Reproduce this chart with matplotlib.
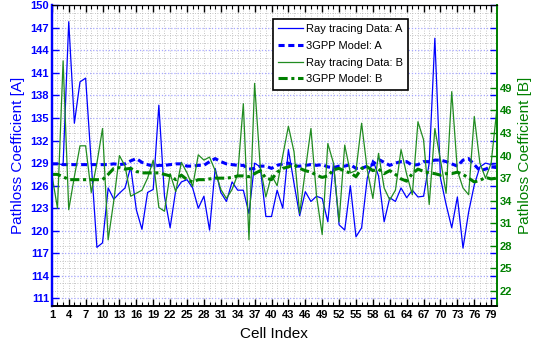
import matplotlib
matplotlib.use("Agg")
import matplotlib.pyplot as plt
import numpy as np
from matplotlib.ticker import MultipleLocator

plt.rcParams['font.family'] = ['Liberation Sans', 'DejaVu Sans']

cells = np.arange(1, 81)

# ray tracing data A (left axis)
ray_a = [128.9, 128.9, 128.8, 147.8, 134.3, 139.8, 140.3, 129.0, 117.8, 118.4,
         125.7, 124.2, 125.0, 125.7, 128.5, 122.8, 120.2, 125.1, 125.5, 136.7,
         124.6, 120.4, 125.4, 126.5, 126.8, 125.7, 123.0, 124.6, 120.1, 128.3,
         125.1, 123.9, 126.5, 125.4, 125.4, 122.3, 129.0, 128.5, 121.9, 121.9,
         125.4, 123.0, 130.8, 126.3, 122.0, 125.2, 123.9, 124.6, 124.3, 121.2,
         129.0, 120.8, 120.1, 126.0, 119.2, 120.4, 127.0, 129.4, 127.3, 121.2,
         124.4, 123.9, 125.7, 124.4, 125.4, 124.5, 124.6, 129.0, 145.6, 127.0,
         123.5, 120.4, 124.5, 117.7, 122.5, 126.1, 128.5, 129.0, 128.8, 128.7]

# 3GPP model A (left axis)
model_a = [128.9, 128.9, 128.8, 128.8, 128.8, 128.8, 128.8, 128.8, 128.8, 128.8,
           128.8, 128.9, 128.8, 128.9, 129.3, 129.6, 129.1, 128.8, 128.6, 128.7,
           128.7, 128.8, 128.9, 128.9, 128.6, 128.6, 128.7, 128.7, 129.2, 129.6,
           129.2, 128.9, 128.8, 128.7, 128.7, 128.2, 128.3, 128.6, 128.6, 128.3,
           128.7, 128.9, 129.0, 128.6, 128.6, 128.7, 128.8, 128.7, 128.8, 128.5,
           128.4, 128.6, 128.6, 128.8, 128.3, 128.3, 128.6, 128.8, 129.5, 129.1,
           128.7, 129.0, 129.2, 129.2, 128.7, 128.8, 129.2, 129.2, 129.4, 129.4,
           129.2, 128.9, 128.6, 129.4, 129.6, 128.8, 128.0, 128.2, 128.5, 128.4]

# ray tracing data B (right axis)
ray_b = [37.5, 33.0, 52.6, 32.8, 37.2, 41.3, 41.3, 35.1, 39.0, 43.6,
         28.8, 34.0, 40.0, 38.6, 34.6, 35.0, 35.4, 37.0, 39.4, 33.1,
         32.6, 37.6, 35.2, 39.1, 37.7, 35.9, 40.1, 39.4, 39.8, 38.0,
         35.5, 34.3, 35.5, 37.5, 46.9, 28.8, 49.6, 38.5, 34.5, 37.4,
         36.0, 40.0, 43.9, 40.5, 32.3, 38.0, 43.6, 34.6, 29.5, 41.6,
         39.0, 31.2, 41.4, 37.7, 38.0, 44.3, 38.1, 34.3, 40.3, 35.7,
         34.1, 35.4, 40.8, 37.5, 34.8, 44.5, 42.1, 33.5, 43.6, 39.4,
         35.0, 48.5, 38.0, 35.7, 34.8, 45.2, 39.0, 37.0, 39.0, 46.1]

# 3GPP model B (right axis)
model_b = [37.5, 37.5, 37.2, 36.8, 36.8, 36.8, 36.8, 36.8, 36.8, 36.8,
           37.5, 38.3, 38.4, 38.2, 38.3, 37.9, 37.7, 37.7, 37.7, 37.7,
           37.5, 37.3, 36.8, 37.4, 36.8, 36.5, 36.8, 36.8, 36.9, 37.0,
           37.0, 37.0, 37.1, 37.3, 37.3, 37.2, 37.6, 38.0, 37.0, 36.8,
           37.8, 38.3, 38.5, 38.8, 38.3, 38.0, 37.8, 37.4, 37.1, 37.3,
           38.1, 38.3, 37.9, 37.7, 37.2, 38.3, 38.5, 38.0, 38.2, 37.6,
           38.0, 37.5, 36.9, 36.6, 37.6, 38.2, 37.9, 37.7, 37.6, 37.4,
           37.6, 37.6, 37.8, 37.5, 37.0, 36.5, 36.7, 37.1, 36.9, 37.0]

blue = (0, 0, 1)
green = (0, 0.5, 0)
green_light = (0.13, 0.55, 0.13)

fig = plt.figure(figsize=(5.4, 3.45), dpi=100)
ax1 = fig.add_axes([0.096, 0.113, 0.824, 0.872])
ax2 = ax1.twinx()

# grid, MATLAB style
ax1.set_axisbelow(True)
ax1.xaxis.set_minor_locator(MultipleLocator(1))
ax1.yaxis.set_minor_locator(MultipleLocator(1))
ax1.grid(which='minor', color='#b4b4b4', linestyle=(0, (1, 2)), linewidth=0.6)
ax1.grid(which='major', axis='x', color='#b4b4b4', linestyle=(0, (1, 2)), linewidth=0.6)
ax1.grid(which='major', axis='y', color='#a8a8ff', linestyle=(0, (1, 1.5)), linewidth=0.9)

l1, = ax1.plot(cells, ray_a, color=blue, linewidth=0.9)
l2, = ax1.plot(cells, model_a, color=blue, linewidth=2.2, linestyle=(0, (2, 1.2)))
l3, = ax2.plot(cells, ray_b, color=green_light, linewidth=0.9)
l4, = ax2.plot(cells, model_b, color=green, linewidth=2.2, linestyle=(0, (3, 1.2, 1, 1.2)))

ax1.set_xlim(1, 80)
ax1.set_ylim(110, 150)
ax2.set_ylim(20, 60)
ax1.set_xticks(np.arange(1, 80, 3))
ax1.set_yticks(np.arange(111, 151, 3))
ax2.set_yticks(np.arange(22, 50, 3))

ax1.tick_params(axis='x', which='major', direction='in', top=True, length=5,
                width=1, labelsize=8, pad=3, colors='black')
ax1.tick_params(axis='x', which='minor', direction='in', top=True, length=3, width=0.8)
ax1.tick_params(axis='y', which='major', direction='in', right=True, length=5,
                width=1, labelsize=8, pad=2, colors=blue)
ax1.tick_params(axis='y', which='minor', length=0)
ax2.tick_params(axis='y', which='major', direction='in', length=5, width=1,
                labelsize=8, pad=2, colors=green)

for lab in ax1.get_xticklabels() + ax1.get_yticklabels() + ax2.get_yticklabels():
    lab.set_fontweight('bold')

for ax in (ax1, ax2):
    ax.spines['left'].set_color(blue)
    ax.spines['left'].set_linewidth(1.6)
    ax.spines['right'].set_color(green)
    ax.spines['right'].set_linewidth(1.3)
    ax.spines['top'].set_color('black')
    ax.spines['bottom'].set_color('black')
    ax.spines['bottom'].set_linewidth(1.2)

ax1.set_xlabel('Cell Index', fontsize=11, labelpad=5)
ax1.set_ylabel('Pathloss Coefficient [A]', fontsize=11, color=blue, labelpad=4)
ax2.set_ylabel('Pathloss Coefficient [B]', fontsize=11, color=green, labelpad=4)

leg = ax2.legend([l1, l2, l3, l4],
                 ['Ray tracing Data: A', '3GPP Model: A', 'Ray tracing Data: B', '3GPP Model: B'],
                 loc='upper left', bbox_to_anchor=(0.496, 0.955), fontsize=8,
                 handlelength=2.2, handletextpad=0.3, labelspacing=0.6,
                 borderpad=0.5, borderaxespad=0, fancybox=False, framealpha=1,
                 edgecolor='black')
leg.get_frame().set_linewidth(1.2)

fig.savefig('out.png', dpi=100)
